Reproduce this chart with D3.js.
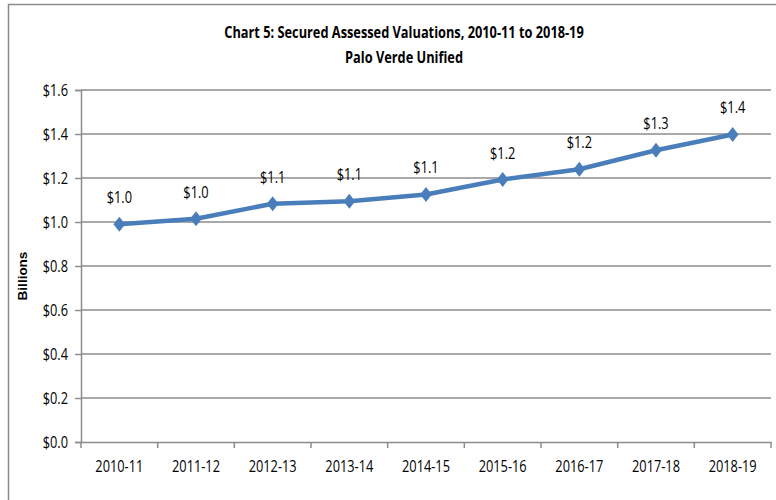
<!DOCTYPE html>
<html>
<head>
<meta charset="utf-8">
<script src="https://cdnjs.cloudflare.com/ajax/libs/d3/7.8.5/d3.min.js"></script>
<style>
  body { margin: 0; background: #fff; }
  text { font-family: "Liberation Sans Narrow", "Open Sans", sans-serif; }
  /* squeeze the wide fallback font towards a Calibri-like width */
  .narrow { transform-box: fill-box; transform-origin: center; transform: scaleX(0.8); }
  .narrow-end { transform-box: fill-box; transform-origin: right center; transform: scaleX(0.8); }
</style>
</head>
<body>
<div id="chart"></div>
<script>
// chart data
var years = ["2010-11", "2011-12", "2012-13", "2013-14", "2014-15", "2015-16", "2016-17", "2017-18", "2018-19"];
var valuations = [0.99, 1.015, 1.083, 1.094, 1.125, 1.193, 1.24, 1.326, 1.398];
var yTicks = [0, 0.2, 0.4, 0.6, 0.8, 1.0, 1.2, 1.4, 1.6];

var Width = 776, Height = 500;
var Margin = {top: 90, right: 5, bottom: 58, left: 81};
var plotW = Width - Margin.left - Margin.right,
    plotH = Height - Margin.top - Margin.bottom;

var svg = d3.select("#chart")
  .append("svg")
  .attr("width", Width)
  .attr("height", Height);

// outer frame
svg.append("rect")
  .attr("x", 8.5).attr("y", 4.5)
  .attr("width", Width + 20).attr("height", Height + 20)
  .attr("fill", "none")
  .attr("stroke", "#8c8c8c")
  .attr("stroke-width", 1.5);

// title
svg.append("text")
  .attr("class", "narrow")
  .attr("x", 404).attr("y", 38)
  .attr("text-anchor", "middle")
  .style("font-size", "16px").style("font-weight", "bold")
  .text("Chart 5: Secured Assessed Valuations,  2010-11 to 2018-19");
svg.append("text")
  .attr("class", "narrow")
  .attr("x", 404).attr("y", 63)
  .attr("text-anchor", "middle")
  .style("font-size", "16px").style("font-weight", "bold")
  .text("Palo Verde Unified");

var g = svg.append("g")
  .attr("transform", "translate(" + Margin.left + "," + Margin.top + ")");

var xScale = d3.scaleBand().domain(years).range([0, plotW]);
var yScale = d3.scaleLinear().domain([0, 1.6]).range([plotH, 0]);

// gridlines
g.selectAll(".grid")
  .data(yTicks.filter(function(d) { return d > 0; }))
  .enter().append("line")
  .attr("x1", 0).attr("x2", plotW)
  .attr("y1", function(d) { return yScale(d); })
  .attr("y2", function(d) { return yScale(d); })
  .attr("stroke", "#8c8c8c")
  .attr("stroke-width", 1.5);

// y axis
var yAxis = g.append("g")
  .call(d3.axisLeft(yScale).tickValues(yTicks).tickSize(6).tickPadding(7)
    .tickFormat(function(d) { return "$" + d3.format(".1f")(d); }));
yAxis.select(".domain").attr("stroke", "#8c8c8c").attr("stroke-width", 1.5);
yAxis.selectAll(".tick line").attr("stroke", "#8c8c8c").attr("stroke-width", 1.5);
yAxis.selectAll("text").attr("class", "narrow-end")
  .style("font-size", "16px").attr("fill", "#000")
  .style("font-family", "'Liberation Sans Narrow', 'Open Sans', sans-serif");

// x axis
var xAxis = g.append("g")
  .attr("transform", "translate(0," + plotH + ")")
  .call(d3.axisBottom(xScale).tickSize(0).tickPadding(19));
xAxis.select(".domain").attr("stroke", "#8c8c8c").attr("stroke-width", 1.5);
xAxis.selectAll("text").attr("class", "narrow")
  .style("font-size", "16px").attr("fill", "#000")
  .style("font-family", "'Liberation Sans Narrow', 'Open Sans', sans-serif");
// category separators
g.selectAll(".xsep")
  .data(d3.range(years.length + 1))
  .enter().append("line")
  .attr("x1", function(i) { return i * xScale.step(); })
  .attr("x2", function(i) { return i * xScale.step(); })
  .attr("y1", plotH).attr("y2", plotH + 6)
  .attr("stroke", "#8c8c8c").attr("stroke-width", 1.5);

// y axis title
svg.append("text")
  .attr("transform", "translate(27,276) rotate(-90)")
  .attr("text-anchor", "middle")
  .style("font-family", "'Liberation Sans', Arial, sans-serif")
  .style("font-size", "13.5px").style("font-weight", "bold")
  .text("Billions");

// line
var cx = function(d, i) { return xScale(years[i]) + xScale.bandwidth() / 2; };
var line = d3.line()
  .x(function(d, i) { return cx(d, i); })
  .y(function(d) { return yScale(d); });

g.append("path")
  .datum(valuations)
  .attr("d", line)
  .attr("fill", "none")
  .attr("stroke", "#4a7ebb")
  .attr("stroke-width", 4.5)
  .attr("stroke-linejoin", "round");

// markers
g.selectAll(".marker")
  .data(valuations)
  .enter().append("path")
  .attr("transform", function(d, i) { return "translate(" + cx(d, i) + "," + yScale(d) + ") scale(1.15,0.85)"; })
  .attr("d", d3.symbol().type(d3.symbolDiamond).size(90))
  .attr("fill", "#4a7ebb");

// data labels
g.selectAll(".label")
  .data(valuations)
  .enter().append("text")
  .attr("class", "narrow")
  .attr("x", function(d, i) { return cx(d, i); })
  .attr("y", function(d) { return yScale(d) - 21; })
  .attr("text-anchor", "middle")
  .attr("fill", "#000")
  .style("font-size", "16px")
  .text(function(d) { return "$" + d3.format(".1f")(d); });
</script>
</body>
</html>
